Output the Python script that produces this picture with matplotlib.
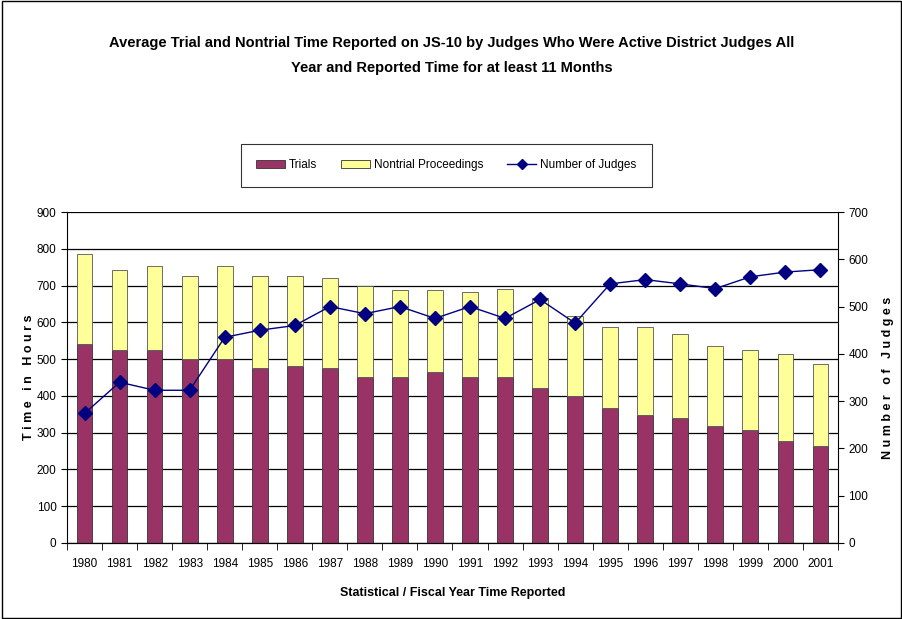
import matplotlib
matplotlib.use('Agg')
import matplotlib.pyplot as plt
from matplotlib.lines import Line2D
from matplotlib.patches import Patch, Rectangle
import numpy as np

plt.rcParams['font.family'] = ['Liberation Sans', 'DejaVu Sans']

years = [str(y) for y in range(1980, 2002)]
trials = [541, 525, 525, 500, 500, 475, 480, 475, 450, 450, 465,
          450, 450, 422, 400, 368, 348, 340, 318, 308, 276, 264]
totals = [785, 742, 752, 727, 752, 727, 727, 720, 700, 688, 688,
          682, 690, 665, 617, 588, 588, 568, 535, 525, 515, 487]
nontrial = [t - r for t, r in zip(totals, trials)]
judges = [274, 340, 323, 323, 435, 450, 460, 500, 485, 500, 475,
          500, 475, 515, 465, 548, 557, 548, 538, 563, 573, 578]

fig = plt.figure(figsize=(9.03, 6.19), dpi=100)
fig.patches.append(Rectangle((0.002, 0.002), 0.996, 0.996, transform=fig.transFigure,
                             fill=False, edgecolor='black', linewidth=1))

ax = fig.add_axes([0.0742, 0.1228, 0.8538, 0.5347])
x = np.arange(len(years))
w = 0.45
ax.bar(x, trials, w, color='#993366', edgecolor='#333333', linewidth=0.6, zorder=2)
ax.bar(x, nontrial, w, bottom=trials, color='#FFFF99', edgecolor='#555555', linewidth=0.6, zorder=2)

ax.set_xlim(-0.5, len(years) - 0.5)
ax.set_ylim(0, 900)
ax.set_yticks(range(0, 901, 100))
ax.yaxis.grid(True, color='black', linewidth=0.9, zorder=0)
ax.set_axisbelow(True)
ax.set_xticks(x)
ax.set_xticklabels(years, fontsize=8.5)
ax.set_xticks(np.arange(-0.5, len(years), 1), minor=True)
ax.tick_params(axis='x', which='major', length=0, pad=11)
ax.tick_params(axis='x', which='minor', length=5, direction='out')
ax.tick_params(axis='y', labelsize=8.5, length=4, direction='out')
ax.spines['top'].set_visible(False)
ax.spines['right'].set_visible(False)
ax.set_ylabel('T i m e   i n   H o u r s', fontsize=9, fontweight='bold', labelpad=1)
ax.set_xlabel('Statistical / Fiscal Year Time Reported', fontsize=9, fontweight='bold', labelpad=12)

ax2 = ax.twinx()
ax2.plot(x, judges, color='#000080', linewidth=1, marker='D', markersize=7.5,
         markerfacecolor='#000080', markeredgecolor='#000080', zorder=3)
ax2.set_ylim(0, 700)
ax2.set_yticks(range(0, 701, 100))
ax2.tick_params(axis='y', labelsize=8.5, length=4, direction='out')
ax2.spines['top'].set_visible(False)
ax2.spines['left'].set_visible(False)
ax2.set_ylabel('N u m b e r   o f   J u d g e s', fontsize=9, fontweight='bold', labelpad=10)

fig.text(0.5, 0.911, 'Average Trial and Nontrial Time Reported on JS-10 by Judges Who Were Active District Judges All\nYear and Reported Time for at least 11 Months',
         ha='center', va='center', fontsize=10.5, fontweight='bold', linespacing=2.0)

handles = [Patch(facecolor='#993366', edgecolor='#333333', linewidth=0.6),
           Patch(facecolor='#FFFF99', edgecolor='#333333', linewidth=0.6),
           Line2D([], [], color='#000080', marker='D', markersize=5, linewidth=1)]
leg = fig.legend(handles, ['Trials', 'Nontrial Proceedings', 'Number of Judges'],
                 loc='center', bbox_to_anchor=(0.494, 0.733), ncol=3, fontsize=8.5,
                 frameon=True, fancybox=False, edgecolor='black', handlelength=2.5,
                 columnspacing=2.0, borderpad=1.3, handletextpad=0.3)
leg.get_frame().set_linewidth(0.8)

fig.savefig('out.png', dpi=100)
